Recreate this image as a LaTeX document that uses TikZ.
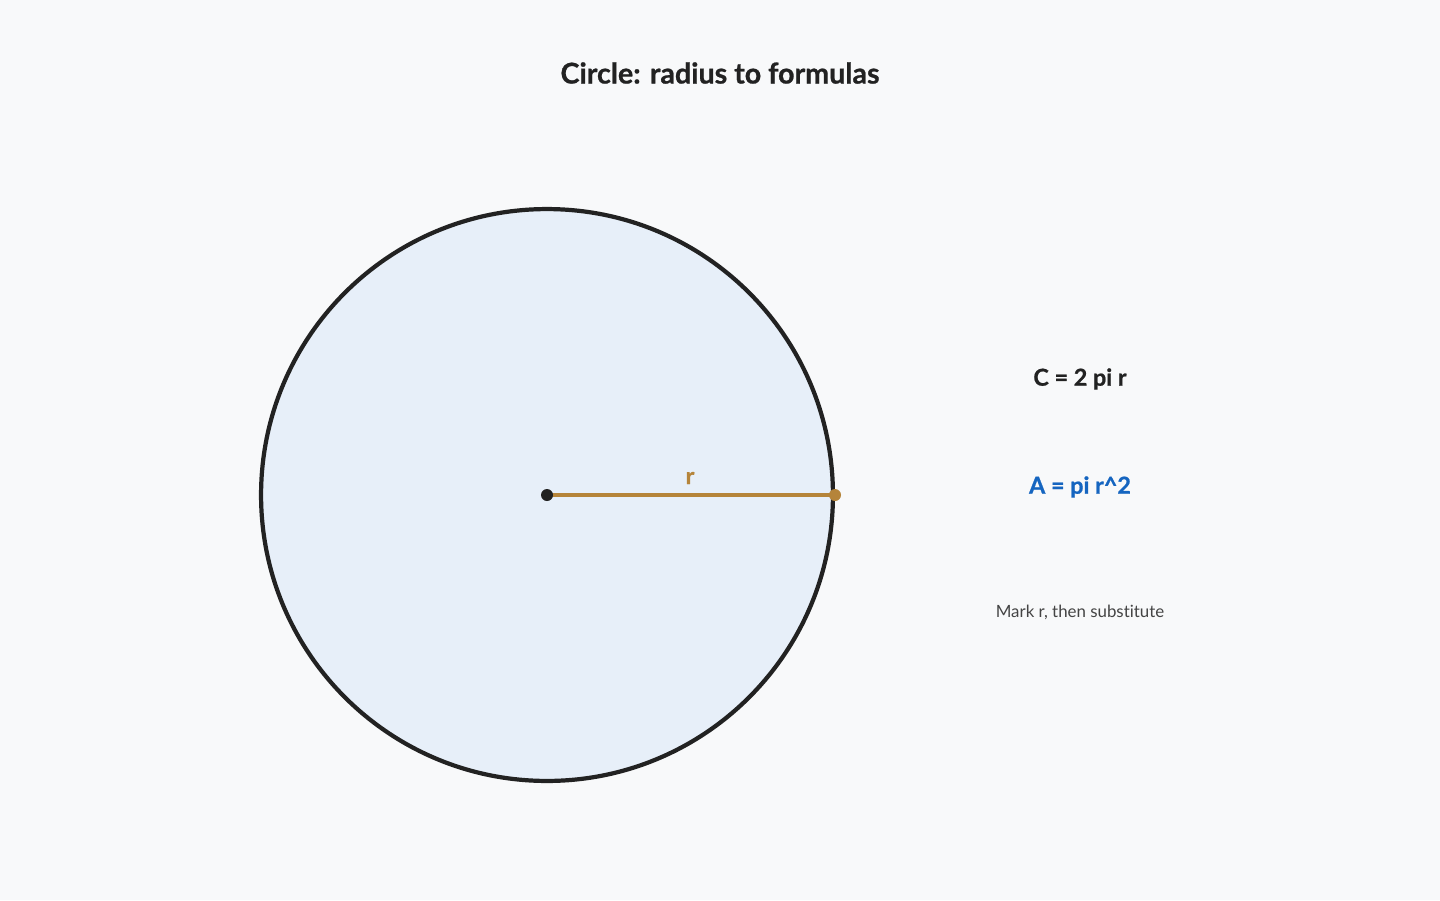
\documentclass[tikz,border=0pt]{standalone}
\usepackage{fontspec}
\setmainfont{Lato}[Ligatures=NoCommon,BoldFeatures={FakeBold=0.8}]
\usetikzlibrary{positioning}
\definecolor{bgcol}{HTML}{F8F9FA}
\definecolor{discfill}{HTML}{E7EFF9}
\definecolor{inkcol}{HTML}{222222}
\definecolor{radcol}{HTML}{B5843A}
\definecolor{areacol}{HTML}{1565C0}
\definecolor{notecol}{HTML}{444444}
\tikzset{
    dot/.style={draw=none,circle,inner sep=0pt,minimum size=0.24cm},
    formula/.style={font=\bfseries\fontsize{13.3}{15}\selectfont},
}
\begin{document}
\begin{tikzpicture}[x=0.02cm,y=-0.02cm]
    % canvas
    \fill[bgcol] (0,0) rectangle (1440,900);
    \useasboundingbox (0,0) rectangle (1440,900);

    % title
    \node[text=inkcol,font=\bfseries\fontsize{16.3}{19}\selectfont] (title) at (720,73) {Circle: radius to formulas};

    % the circle
    \node[draw=inkcol,fill=discfill,circle,line width=2.4pt,minimum size=11.44cm] (disc) at (547,495) {};

    % radius
    \coordinate (ctr) at (547,495);
    \coordinate (edge) at (835,495);
    \draw[radcol,line width=2.6pt] (ctr) -- (edge);
    \node[dot,fill=inkcol] (c0) at (ctr) {};
    \node[dot,fill=radcol] (c1) at (edge) {};
    \node[text=radcol,formula] (rlab) at (690,478) {r};

    % formulas
    \node[text=inkcol,formula] (circ) at (1080,379) {C = 2 pi r};
    \node[text=areacol,formula] (area) at (1080,487) {A = pi r\^{}2};
    \node[text=notecol,font=\fontsize{9.6}{11}\selectfont] (note) at (1080,612) {Mark r, then substitute};
\end{tikzpicture}
\end{document}
